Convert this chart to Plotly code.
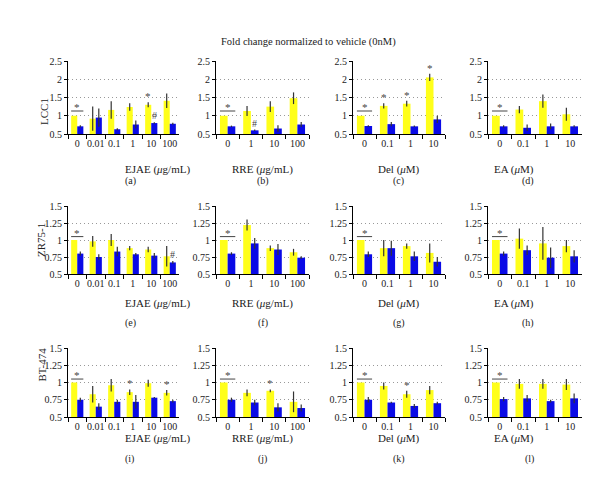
import plotly.graph_objects as go

# categories per treatment
cats_ejae = ["0", "0.01", "0.1", "1", "10", "100"]
cats_rre = ["0", "1", "10", "100"]
cats_um = ["0", "0.1", "1", "10"]

# yellow series (first bar) and error
yel = {
    "a": [1.0, 0.92, 1.16, 1.24, 1.30, 1.41],
    "b": [1.0, 1.13, 1.25, 1.48],
    "c": [1.0, 1.27, 1.33, 2.05],
    "d": [1.0, 1.17, 1.40, 1.04],
    "e": [1.0, 0.98, 1.0, 0.88, 0.86, 0.76],
    "f": [1.0, 1.22, 0.88, 0.82],
    "g": [1.0, 0.88, 0.91, 0.81],
    "h": [1.0, 1.02, 0.95, 0.91],
    "i": [1.0, 0.83, 0.96, 0.86, 0.99, 0.85],
    "j": [1.0, 0.85, 0.88, 0.72],
    "k": [1.0, 0.95, 0.83, 0.89],
    "l": [1.0, 0.98, 0.98, 0.97],
}
yel_err = {
    "a": [0, 0.33, 0.24, 0.10, 0.07, 0.20],
    "b": [0, 0.14, 0.15, 0.16],
    "c": [0, 0.07, 0.08, 0.10],
    "d": [0, 0.10, 0.18, 0.18],
    "e": [0, 0.08, 0.09, 0.03, 0.04, 0.15],
    "f": [0, 0.08, 0.04, 0.05],
    "g": [0, 0.12, 0.04, 0.14],
    "h": [0, 0.15, 0.24, 0.09],
    "i": [0, 0.12, 0.09, 0.04, 0.05, 0.04],
    "j": [0, 0.05, 0.02, 0.15],
    "k": [0, 0.05, 0.05, 0.06],
    "l": [0, 0.07, 0.07, 0.08],
}
# blue series (second bar) and error
blu = {
    "a": [0.71, 0.95, 0.63, 0.76, 0.80, 0.78],
    "b": [0.71, 0.60, 0.65, 0.76],
    "c": [0.72, 0.77, 0.71, 0.90],
    "d": [0.71, 0.67, 0.71, 0.71],
    "e": [0.80, 0.75, 0.83, 0.79, 0.77, 0.67],
    "f": [0.80, 0.95, 0.86, 0.74],
    "g": [0.79, 0.88, 0.76, 0.68],
    "h": [0.80, 0.85, 0.74, 0.76],
    "i": [0.75, 0.65, 0.72, 0.72, 0.78, 0.73],
    "j": [0.75, 0.71, 0.64, 0.63],
    "k": [0.75, 0.71, 0.66, 0.70],
    "l": [0.76, 0.77, 0.73, 0.77],
}
blu_err = {
    "a": [0.03, 0.25, 0.03, 0.11, 0.02, 0.03],
    "b": [0.02, 0.02, 0.09, 0.07],
    "c": [0.02, 0.06, 0.02, 0.10],
    "d": [0.03, 0.09, 0.08, 0.03],
    "e": [0.03, 0.04, 0.07, 0.02, 0.04, 0.02],
    "f": [0.02, 0.08, 0.08, 0.02],
    "g": [0.04, 0.11, 0.07, 0.07],
    "h": [0.03, 0.07, 0.15, 0.09],
    "i": [0.03, 0.05, 0.03, 0.10, 0.01, 0.02],
    "j": [0.03, 0.04, 0.06, 0.05],
    "k": [0.04, 0.01, 0.03, 0.02],
    "l": [0.03, 0.05, 0.02, 0.07],
}
# significance marks (index of category -> symbol)
yel_sig = {"a": {4: "*"}, "c": {1: "*", 2: "*", 3: "*"}, "i": {3: "*", 5: "*"},
           "j": {2: "*"}, "k": {2: "*"}}
blu_sig = {"a": {4: "#"}, "b": {1: "#"}, "e": {5: "#"}}

row_names = ["LCC1", "ZR75-1", "BT-474"]
x_titles = ["EJAE (<i>μ</i>g/mL)", "RRE (<i>μ</i>g/mL)", "Del (<i>μ</i>M)", "EA (<i>μ</i>M)"]
col_cats = [cats_ejae, cats_rre, cats_um, cats_um]
letters = ["a", "b", "c", "d", "e", "f", "g", "h", "i", "j", "k", "l"]

W, H = 600, 485
col_px = [(60, 171), (208, 301), (345, 437), (480, 574)]
row_px = [(53, 126), (198, 266), (340, 409)]
xtitle_y = [154, 295, 438]
letter_y = [173, 315, 458]
row_lbl_x = [29, 26, 26]

YELLOW = "#FFFF1A"
BLUE = "#0A0AE6"
ERRC = "#333333"
TXT = "#222222"
FONT = "Liberation Serif"
BW = 0.66 / 2  # half group width in category units

fig = go.Figure()
annotations = []
shapes = []

for idx, L in enumerate(letters):
    r, c = divmod(idx, 4)
    n = idx + 1
    xa = "x" if n == 1 else f"x{n}"
    ya = "y" if n == 1 else f"y{n}"
    cats = col_cats[c]
    fig.add_trace(go.Bar(x=cats, y=yel[L], marker_color=YELLOW, marker_line_width=0,
                         error_y=dict(type="data", array=yel_err[L], color=ERRC,
                                      thickness=1.2, width=0),
                         xaxis=xa, yaxis=ya, showlegend=False, offsetgroup="1"))
    fig.add_trace(go.Bar(x=cats, y=blu[L], marker_color=BLUE, marker_line_width=0,
                         error_y=dict(type="data", array=blu_err[L], color=ERRC,
                                      thickness=1.2, width=0),
                         xaxis=xa, yaxis=ya, showlegend=False, offsetgroup="2"))

    x0, x1 = col_px[c]
    y0, y1 = row_px[r]
    big = r == 0
    axkey = "xaxis" if n == 1 else f"xaxis{n}"
    aykey = "yaxis" if n == 1 else f"yaxis{n}"
    fig.update_layout(**{
        axkey: dict(domain=[x0 / W, x1 / W], anchor=ya, type="category",
                    categoryorder="array", categoryarray=cats,
                    range=[-0.5, len(cats) - 0.5], tickangle=0, automargin=False,
                    showline=True, linecolor="black", linewidth=1,
                    ticks="outside", tickson="boundaries", ticklen=4, tickcolor="black",
                    showgrid=False, tickfont=dict(family=FONT, size=10, color=TXT)),
        aykey: dict(domain=[1 - y1 / H, 1 - y0 / H], anchor=xa, automargin=False,
                    range=[0.5, 2.5] if big else [0.5, 1.5],
                    tickvals=[0.5, 1, 1.5, 2, 2.5] if big else [0.5, 0.75, 1, 1.25, 1.5],
                    ticktext=["0.5", "1", "1.5", "2", "2.5"] if big else ["0.5", "0.75", "1", "1.25", "1.5"],
                    showline=True, linecolor="black", linewidth=1,
                    ticks="outside", ticklen=3, tickcolor="black",
                    showgrid=True, gridcolor="#999999", griddash="1px,3px", gridwidth=1,
                    zeroline=False, tickfont=dict(family=FONT, size=10, color=TXT)),
    })

    # control bracket with asterisk
    by = 1.13 if big else 1.05
    shapes.append(dict(type="line", xref=xa, yref=ya, x0=-BW, x1=BW, y0=by, y1=by,
                       line=dict(color="#444", width=1)))
    annotations.append(dict(x=0, y=by, xref=xa, yref=ya, text="*", showarrow=False,
                            yanchor="bottom", yshift=-4,
                            font=dict(family=FONT, size=11, color="#444")))
    for k, s in yel_sig.get(L, {}).items():
        annotations.append(dict(x=k - BW / 2, y=yel[L][k] + yel_err[L][k], xref=xa, yref=ya,
                                text=s, showarrow=False, yanchor="bottom",
                                yshift=-2, font=dict(family=FONT, size=11, color="#444")))
    for k, s in blu_sig.get(L, {}).items():
        annotations.append(dict(x=k + BW / 2, y=blu[L][k] + blu_err[L][k], xref=xa, yref=ya,
                                text=s, showarrow=False, yanchor="bottom",
                                yshift=-1, font=dict(family=FONT, size=10, color="#444")))

    # x title and panel letter
    cx = (x0 + x1) / 2 / W
    annotations.append(dict(x=cx, y=1 - xtitle_y[r] / H, xref="paper", yref="paper",
                            text=x_titles[c], showarrow=False, borderpad=0,
                            font=dict(family=FONT, size=11, color=TXT)))
    annotations.append(dict(x=cx, y=1 - letter_y[r] / H, xref="paper", yref="paper",
                            text=f"({L})", showarrow=False, borderpad=0,
                            font=dict(family=FONT, size=10, color=TXT)))

for r in range(3):
    y0, y1 = row_px[r]
    annotations.append(dict(x=row_lbl_x[r] / W, y=1 - (y0 + y1) / 2 / H, xref="paper",
                            yref="paper", text=row_names[r], textangle=-90, showarrow=False,
                            borderpad=0, font=dict(family=FONT, size=11, color=TXT)))

annotations.append(dict(x=0.5, y=1 - 26 / H, xref="paper", yref="paper",
                        text="Fold change normalized to vehicle (0nM)", showarrow=False,
                        font=dict(family=FONT, size=10.5, color=TXT)))

fig.update_layout(template="none", width=W, height=H,
                  margin=dict(l=0, r=0, t=0, b=0, autoexpand=False),
                  paper_bgcolor="white", plot_bgcolor="white",
                  barmode="group", bargap=0.34, bargroupgap=0,
                  annotations=annotations, shapes=shapes)

fig.write_html("out.html")
